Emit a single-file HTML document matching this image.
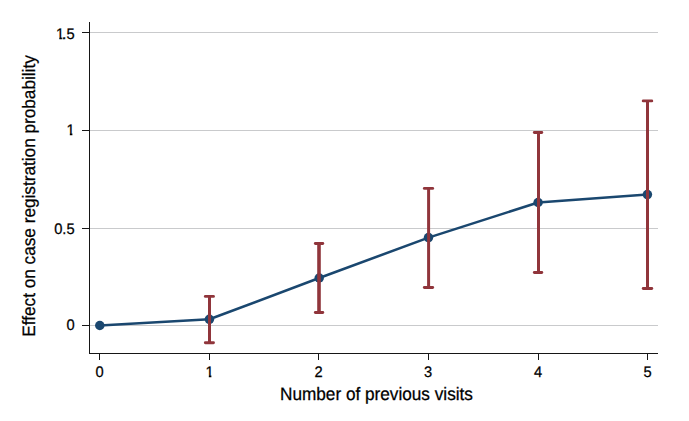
<!DOCTYPE html>
<html lang="en"><head><meta charset="utf-8"><title>Effect on case registration probability</title>
<style>html,body{margin:0;padding:0;background:#fff}body{width:689px;height:421px;overflow:hidden}svg{display:block}text{font-family:"Liberation Sans",Arial,Helvetica,sans-serif;fill:#000;stroke:#000;stroke-width:0.25px;text-rendering:geometricPrecision}</style></head><body>
<svg width="689" height="421" viewBox="0 0 689 421">
<rect width="689" height="421" fill="#fff"/>
<line x1="90" x2="658" y1="325.5" y2="325.5" stroke="#c9cacc" stroke-width="1"/>
<line x1="90" x2="658" y1="228.5" y2="228.5" stroke="#c9cacc" stroke-width="1"/>
<line x1="90" x2="658" y1="130.5" y2="130.5" stroke="#c9cacc" stroke-width="1"/>
<line x1="90" x2="658" y1="32.5" y2="32.5" stroke="#c9cacc" stroke-width="1"/>
<path d="M99.8,325.5 L209.4,319.3 L319.2,278.0 L428.5,237.6 L538.1,202.5 L647.4,194.6" fill="none" stroke="#1a476f" stroke-width="2.55" stroke-linejoin="round"/>
<circle cx="99.8" cy="325.5" r="4.75" fill="#1a476f"/>
<circle cx="209.4" cy="319.3" r="4.75" fill="#1a476f"/>
<circle cx="319.2" cy="278.0" r="4.75" fill="#1a476f"/>
<circle cx="428.5" cy="237.6" r="4.75" fill="#1a476f"/>
<circle cx="538.1" cy="202.5" r="4.75" fill="#1a476f"/>
<circle cx="647.4" cy="194.6" r="4.75" fill="#1a476f"/>
<g stroke="#90353b" fill="none"><line x1="209.5" x2="209.5" y1="296.4" y2="342.7" stroke-width="3"/><line x1="205.3" x2="213.5" y1="296.4" y2="296.4" stroke-width="2.85" stroke-linecap="round"/><line x1="205.3" x2="213.5" y1="342.7" y2="342.7" stroke-width="2.85" stroke-linecap="round"/></g>
<g stroke="#90353b" fill="none"><line x1="319.0" x2="319.0" y1="243.5" y2="312.5" stroke-width="3.6"/><line x1="315.3" x2="322.8" y1="243.5" y2="243.5" stroke-width="2.85" stroke-linecap="round"/><line x1="315.3" x2="322.8" y1="312.5" y2="312.5" stroke-width="2.85" stroke-linecap="round"/></g>
<g stroke="#90353b" fill="none"><line x1="428.6" x2="428.6" y1="188.4" y2="287.5" stroke-width="3"/><line x1="424.3" x2="432.7" y1="188.4" y2="188.4" stroke-width="2.85" stroke-linecap="round"/><line x1="424.3" x2="432.7" y1="287.5" y2="287.5" stroke-width="2.85" stroke-linecap="round"/></g>
<g stroke="#90353b" fill="none"><line x1="538.5" x2="538.5" y1="132.5" y2="272.5" stroke-width="3"/><line x1="534.3" x2="541.8" y1="132.5" y2="132.5" stroke-width="2.85" stroke-linecap="round"/><line x1="534.3" x2="541.8" y1="272.5" y2="272.5" stroke-width="2.85" stroke-linecap="round"/></g>
<g stroke="#90353b" fill="none"><line x1="647.5" x2="647.5" y1="100.9" y2="288.5" stroke-width="3"/><line x1="643.2" x2="651.8" y1="100.9" y2="100.9" stroke-width="2.85" stroke-linecap="round"/><line x1="643.2" x2="651.8" y1="288.5" y2="288.5" stroke-width="2.85" stroke-linecap="round"/></g>
<g stroke="#161616" stroke-width="1" shape-rendering="crispEdges">
<line x1="89.5" x2="89.5" y1="22" y2="354"/>
<line x1="89" x2="658" y1="353.5" y2="353.5"/>
<line x1="82" x2="89" y1="325.5" y2="325.5"/>
<line x1="82" x2="89" y1="228.5" y2="228.5"/>
<line x1="82" x2="89" y1="130.5" y2="130.5"/>
<line x1="82" x2="89" y1="32.5" y2="32.5"/>
<line x1="99.5" x2="99.5" y1="354" y2="360"/>
<line x1="209.5" x2="209.5" y1="354" y2="360"/>
<line x1="318.5" x2="318.5" y1="354" y2="360"/>
<line x1="428.5" x2="428.5" y1="354" y2="360"/>
<line x1="538.5" x2="538.5" y1="354" y2="360"/>
<line x1="647.5" x2="647.5" y1="354" y2="360"/>
</g>
<text transform="translate(74.6,330) scale(0.96,1)" font-size="15.3" text-anchor="end">0</text>
<text transform="translate(74.6,234) scale(0.96,1)" font-size="15.3" text-anchor="end">0.5</text>
<clipPath id="c1"><rect x="62.60" y="121" width="16" height="11.90"/><rect x="69.80" y="121" width="2.60" height="16"/></clipPath><g clip-path="url(#c1)"><text transform="translate(74.60,135) scale(0.96,1)" font-size="15.3" text-anchor="end">1</text></g>
<clipPath id="c2"><rect x="50" y="25" width="12.6" height="11.9"/><rect x="59.30" y="25" width="2.60" height="16"/><rect x="62.6" y="25" width="20" height="16"/></clipPath>
<g clip-path="url(#c2)"><text transform="translate(74.6,39) scale(0.96,1)" x="-10.94 0" font-size="15.3" text-anchor="end">1.5</text></g>
<text transform="translate(99.5,377) scale(0.96,1)" font-size="15.3" text-anchor="middle">0</text>
<clipPath id="c3"><rect x="201.60" y="363" width="16" height="11.90"/><rect x="208.80" y="363" width="2.60" height="16"/></clipPath><g clip-path="url(#c3)"><text transform="translate(213.60,377) scale(0.96,1)" font-size="15.3" text-anchor="end">1</text></g>
<text transform="translate(318.5,377) scale(0.96,1)" font-size="15.3" text-anchor="middle">2</text>
<text transform="translate(428.1,377) scale(0.96,1)" font-size="15.3" text-anchor="middle">3</text>
<text transform="translate(538.1,377) scale(0.96,1)" font-size="15.3" text-anchor="middle">4</text>
<text transform="translate(647.5,377) scale(0.96,1)" font-size="15.3" text-anchor="middle">5</text>
<text transform="translate(376.45,399.7) scale(1,1.045)" font-size="17.2" text-anchor="middle">Number of previous visits</text>
<text transform="translate(35.2,195.95) rotate(-90) scale(1,1.045)" font-size="17.2" text-anchor="middle">Effect on case registration probability</text>
</svg></body></html>
